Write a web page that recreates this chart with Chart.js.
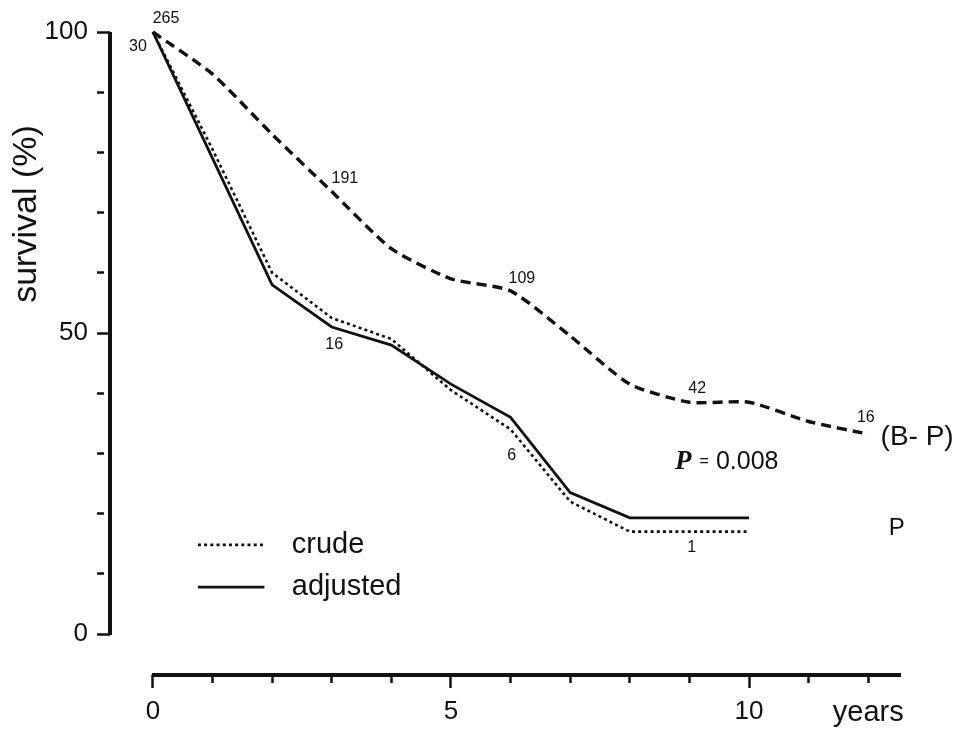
<!DOCTYPE html>
<html>
<head>
<meta charset="utf-8">
<script src="https://cdn.jsdelivr.net/npm/chart.js@4.4.1/dist/chart.umd.min.js"></script>
<style>
  html, body { margin: 0; padding: 0; background: #fff; }
  canvas { display: block; }
</style>
</head>
<body>
<canvas id="survivalChart" width="954" height="729"></canvas>
<script>
// Data
const years = [0, 1, 2, 3, 4, 5, 6, 7, 8, 9, 10, 11, 12];
const bpSurvival = [100, 93, 83, 73.5, 64, 59, 57, 49.5, 41.5, 38.5, 38.5, 35.3, 33.2];
const crudeSurvival = [100, 80.5, 60, 52.5, 49, 40.5, 34, 22, 17, 17, 17];
const adjustedSurvival = [100, 79, 58, 51, 48, 41.5, 36, 23.5, 19.3, 19.3, 19.3];

const yTickValues = [0, 10, 20, 30, 40, 50, 60, 70, 80, 90, 100];
const yTickLabels = { 0: "0", 50: "50", 100: "100" };
const xTickValues = [0, 1, 2, 3, 4, 5, 6, 7, 8, 9, 10, 11, 12];
const xTickLabels = { 0: "0", 5: "5", 10: "10", 12: "years" };

// numbers at risk and other notes, anchored in data units
const notes = [
    { text: "265", t: 0.22, v: 102.3, size: 16 },
    { text: "30", t: -0.25, v: 97.5, size: 16 },
    { text: "191", t: 3.22, v: 75.7, size: 16 },
    { text: "16", t: 3.04, v: 48, size: 16 },
    { text: "109", t: 6.19, v: 59.1, size: 16 },
    { text: "6", t: 6.02, v: 29.6, size: 16 },
    { text: "42", t: 9.13, v: 40.7, size: 16 },
    { text: "16", t: 11.96, v: 36.0, size: 16 },
    { text: "1", t: 9.04, v: 14.3, size: 16 },
    { text: "(B- P)", t: 12.82, v: 32.7, size: 28 },
    { text: "P", t: 12.48, v: 17.6, size: 24 }
];

const ink = "#111";
const sans = "'Liberation Sans', Arial, sans-serif";

function toPoints(values) {
    return values.map((v, i) => ({ x: years[i], y: v }));
}

const paperPlugin = {
    id: "paper",
    afterDraw(chart) {
        const { ctx, scales: { x, y } } = chart;
        ctx.save();
        ctx.strokeStyle = ink;
        ctx.fillStyle = ink;

        // axis lines
        ctx.lineWidth = 4;
        ctx.beginPath();
        ctx.moveTo(y.right, y.getPixelForValue(100));
        ctx.lineTo(y.right, y.getPixelForValue(0) + 1);
        ctx.stroke();
        ctx.beginPath();
        ctx.moveTo(x.getPixelForValue(0) - 1, x.top);
        ctx.lineTo(x.getPixelForValue(12.55), x.top);
        ctx.stroke();

        // y title
        ctx.save();
        ctx.translate(27, 214);
        ctx.rotate(-Math.PI / 2);
        ctx.font = "34px " + sans;
        ctx.textAlign = "center";
        ctx.textBaseline = "middle";
        ctx.fillText("survival (%)", 0, 0);
        ctx.restore();

        // notes
        ctx.textAlign = "center";
        ctx.textBaseline = "middle";
        notes.forEach(n => {
            ctx.font = n.size + "px " + sans;
            ctx.fillText(n.text, x.getPixelForValue(n.t), y.getPixelForValue(n.v));
        });

        // P = 0.008
        let px = x.getPixelForValue(8.76);
        const py = y.getPixelForValue(28.6);
        ctx.textAlign = "left";
        ctx.font = "italic bold 27px 'Liberation Serif', serif";
        ctx.fillText("P", px, py);
        px += ctx.measureText("P").width + 8;
        ctx.font = "16px " + sans;
        ctx.fillText("=", px, py);
        px += ctx.measureText("=").width + 7;
        ctx.font = "25px " + sans;
        ctx.fillText("0.008", px, py);

        // legend
        const lx1 = x.getPixelForValue(0.755);
        const lx2 = x.getPixelForValue(1.87);
        const tx = x.getPixelForValue(2.33);
        const rows = [
            { label: "crude", v: 14.8, dash: [3, 3.2], width: 2.6 },
            { label: "adjusted", v: 7.8, dash: [], width: 2.8 }
        ];
        rows.forEach(r => {
            const ry = y.getPixelForValue(r.v);
            ctx.lineWidth = r.width;
            ctx.setLineDash(r.dash);
            ctx.beginPath();
            ctx.moveTo(lx1, ry);
            ctx.lineTo(lx2, ry);
            ctx.stroke();
            ctx.setLineDash([]);
            ctx.font = "29px " + sans;
            ctx.fillText(r.label, tx, ry);
        });
        ctx.restore();
    }
};

const ctx = document.getElementById("survivalChart");

new Chart(ctx, {
    type: "line",
    data: {
        datasets: [
            {
                label: "B-P",
                data: toPoints(bpSurvival),
                borderColor: ink,
                borderWidth: 3.4,
                borderDash: [10, 6],
                tension: 0.2,
                pointRadius: 0,
                clip: false
            },
            {
                label: "crude",
                data: toPoints(crudeSurvival),
                borderColor: ink,
                borderWidth: 2.6,
                borderDash: [3, 3.2],
                tension: 0,
                pointRadius: 0,
                clip: false
            },
            {
                label: "adjusted",
                data: toPoints(adjustedSurvival),
                borderColor: ink,
                borderWidth: 2.8,
                tension: 0,
                pointRadius: 0,
                clip: false
            }
        ]
    },
    options: {
        responsive: false,
        animation: false,
        devicePixelRatio: 1,
        layout: { padding: { top: 32, right: 50, left: 0, bottom: 0 } },
        plugins: {
            legend: { display: false },
            tooltip: { enabled: false }
        },
        scales: {
            x: {
                type: "linear",
                min: -0.72,
                max: 12.6,
                afterFit: s => { s.height = 54; },
                afterBuildTicks: s => { s.ticks = xTickValues.map(v => ({ value: v })); },
                border: { display: false },
                grid: {
                    drawOnChartArea: false,
                    tickLength: 13,
                    tickWidth: 2.5,
                    tickColor: ink,
                    tickBorderDash: c => (c.tick && c.tick.value % 5 === 0) ? [] : [8, 30]
                },
                ticks: {
                    autoSkip: false,
                    maxRotation: 0,
                    padding: 8,
                    color: ink,
                    font: c => ({ family: sans, size: (c.tick && c.tick.value === 12) ? 29 : 26 }),
                    callback: v => xTickLabels[v] ?? ""
                }
            },
            y: {
                min: -6.81,
                max: 100,
                afterFit: s => { s.width = 110; },
                afterBuildTicks: s => { s.ticks = yTickValues.map(v => ({ value: v })); },
                border: { display: false },
                grid: {
                    drawOnChartArea: false,
                    tickLength: 13,
                    tickWidth: 2.5,
                    tickColor: ink,
                    tickBorderDash: c => (c.tick && c.tick.value % 50 === 0) ? [] : [7, 30]
                },
                ticks: {
                    autoSkip: false,
                    padding: 9,
                    color: ink,
                    font: { family: sans, size: 26 },
                    callback: v => yTickLabels[v] ?? ""
                }
            }
        }
    },
    plugins: [paperPlugin]
});
</script>
</body>
</html>
